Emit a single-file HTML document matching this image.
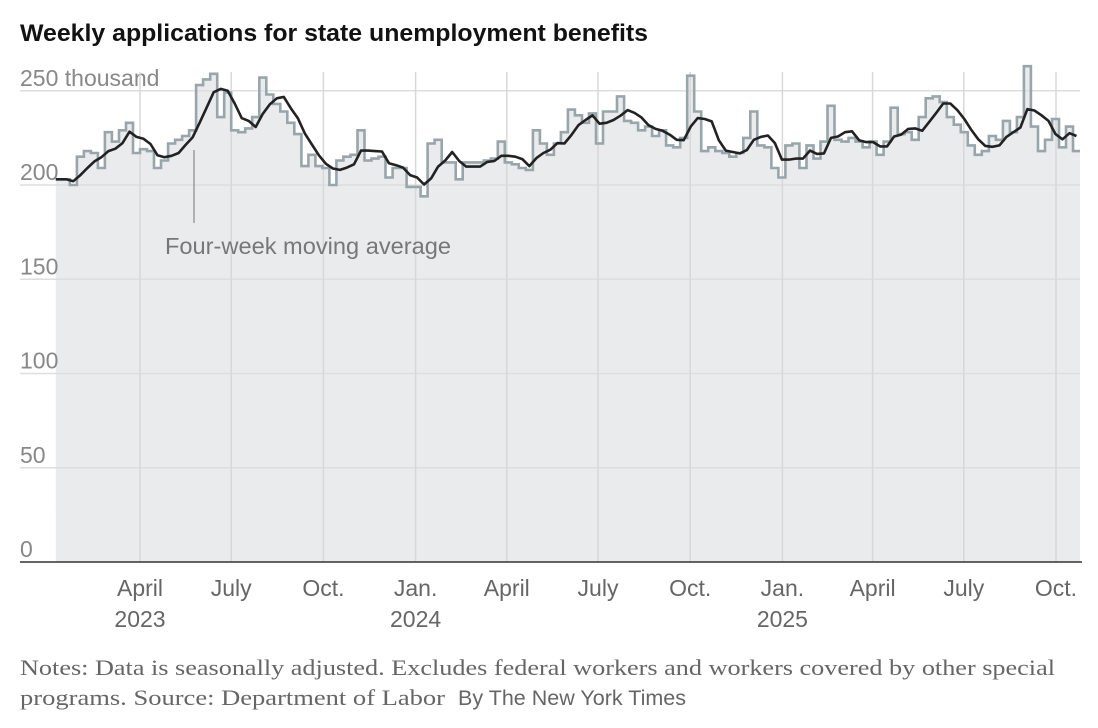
<!DOCTYPE html>
<html><head><meta charset="utf-8">
<style>
body{margin:0;background:#fff;width:1098px;height:728px;overflow:hidden;font-family:"Liberation Sans",sans-serif;}
svg{position:absolute;left:0;top:0}
</style></head>
<body>
<svg id="chart" width="1098" height="728" viewBox="0 0 1098 728">
  <text x="20" y="41" font-family="'Liberation Sans Narrow','Liberation Sans',sans-serif" font-weight="bold" font-size="24" fill="#121212" textLength="628" lengthAdjust="spacingAndGlyphs">Weekly applications for state unemployment benefits</text>
  <g id="fillLayer"></g>
  <g id="gridLayer"></g>
  <g id="lineLayer"></g>
  <g id="axisLayer"></g>
  <line x1="194" y1="150" x2="194" y2="223" stroke="#888" stroke-width="1.2"/>
  <text x="165" y="254" font-size="23" fill="#777" textLength="286" lengthAdjust="spacingAndGlyphs">Four-week moving average</text>
  <text x="20" y="675" font-family="'Liberation Serif',serif" font-size="22" fill="#666" textLength="1035" lengthAdjust="spacingAndGlyphs">Notes: Data is seasonally adjusted. Excludes federal workers and workers covered by other special</text>
  <text x="20" y="705" font-family="'Liberation Serif',serif" font-size="22" fill="#666" textLength="425" lengthAdjust="spacingAndGlyphs">programs.  Source: Department of Labor</text>
  <text x="458" y="705" font-family="'Liberation Sans Narrow','Liberation Sans',sans-serif" font-size="21" fill="#666" textLength="228" lengthAdjust="spacingAndGlyphs">By The New York Times</text>
</svg>
<script>
const claims = [203,203,200,215,218,217,209,228,223,229,233,217,219,218,209,213,222,224,226,229,253,256,259,236,249,229,228,230,236,257,248,243,239,233,227,210,216,
210,209,200,213,215,216,229,213,214,215,204,209,209,199,199,194,222,224,212,212,203,212,212,212,213,214,223,212,211,209,208,229,222,216,222,228,240,
237,233,238,222,239,239,247,234,233,229,231,226,229,221,220,225,258,239,218,220,218,217,215,217,225,239,221,220,209,204,221,222,209,221,214,223,242,
224,223,225,223,220,223,216,223,241,227,228,224,236,246,247,244,236,232,228,221,216,218,226,224,234,228,236,263,231,218,224,235,220,231,218];
const startDate = "2023-01-07";
const yTicks = [0,50,100,150,200,250];
const yTickLabels = ["0","50","100","150","200","250 thousand"];
const xTickDates = ["2023-04-01","2023-07-01","2023-10-01","2024-01-01","2024-04-01","2024-07-01","2024-10-01","2025-01-01","2025-04-01","2025-07-01","2025-10-01"];
const xTickLabels = ["April","July","Oct.","Jan.","April","July","Oct.","Jan.","April","July","Oct."];
const yearLabels = ["2023","2024","2025"];
const yearAnchorIdx = [0,3,7];

const NS="http://www.w3.org/2000/svg";
const DAY=86400000;
const d0=Date.parse("2023-04-01"), d1=Date.parse("2025-10-01");
function x(d){return 140+(d-d0)/(d1-d0)*916;}
function y(v){return 562-v*1.885;}
function mk(tag,attrs,parent){const e=document.createElementNS(NS,tag);for(const k in attrs)e.setAttribute(k,attrs[k]);parent.appendChild(e);return e;}
const s0=Date.parse(startDate);
const xl=i=>x(s0+i*7*DAY);
const xEnd=1080;
let pts=[];
claims.forEach((v,i)=>{const a=xl(i),b=Math.min(xEnd,(i===claims.length-1)?xEnd:xl(i+1));if(a<xEnd)pts.push([a,y(v)],[b,y(v)]);});
const fillD="M"+pts[0][0]+","+y(0)+" "+pts.map(p=>"L"+p[0].toFixed(1)+","+p[1].toFixed(1)).join(" ")+" L"+xEnd+","+y(0)+"Z";
const fl=mk("path",{d:fillD,fill:"#eaebed"},document.getElementById("fillLayer"));


const g=document.getElementById("gridLayer");
yTicks.forEach((t,i)=>{
  if(t>0){const l=mk("line",{x1:20,x2:xEnd,y1:y(t),y2:y(t),stroke:"#dedede","stroke-width":1.5},g);
  
  }
  const tx=mk("text",{x:20,y:y(t)-5,"font-size":23,fill:"#888"},g);
  
  
  tx.textContent=yTickLabels[i];
});
xTickDates.forEach((ds,i)=>{
  const xx=x(Date.parse(ds));
  const l=mk("line",{x1:xx,x2:xx,y1:72,y2:562,stroke:"#d8d8d8","stroke-width":1.5},g);
  
  
  const tx=mk("text",{x:xx,y:596,"font-size":23,fill:"#666","text-anchor":"middle"},g);
  
  
  tx.textContent=xTickLabels[i];
});
yearLabels.forEach((yl,i)=>{
  const xx=x(Date.parse(xTickDates[yearAnchorIdx[i]]));
  const tx=mk("text",{x:xx,y:627,"font-size":23,fill:"#666","text-anchor":"middle"},g);
  
  
  tx.textContent=yl;
});
const L=document.getElementById("lineLayer");
const sl=mk("path",{d:"M"+pts.map(p=>p[0].toFixed(1)+","+p[1].toFixed(1)).join(" L"),fill:"none",stroke:"#98a5aa","stroke-width":2.6},L);


const ma=claims.map((v,i)=>{const s=claims.slice(Math.max(0,i-3),i+1);return s.reduce((a,b)=>a+b,0)/s.length;});
const maPts=[];
ma.forEach((v,i)=>{const xx=i===0?xl(0):xl(i)+3.5;if(xx<=xEnd)maPts.push(xx.toFixed(1)+","+y(v).toFixed(1));});
const ml=mk("path",{d:"M"+maPts.join(" L"),fill:"none",stroke:"#222","stroke-width":2.6,"stroke-linejoin":"round"},L);


const ax=mk("line",{x1:20,x2:xEnd+2,y1:y(0),y2:y(0),stroke:"#333","stroke-width":1.5},document.getElementById("axisLayer"));


</script>
</body></html>
